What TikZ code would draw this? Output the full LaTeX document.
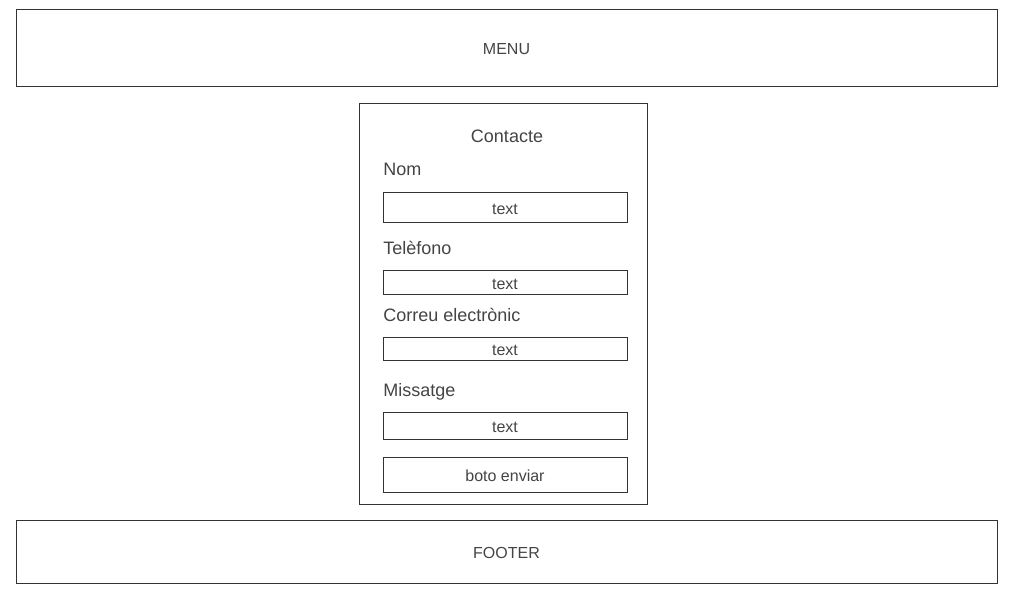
\documentclass[tikz,border=0pt]{standalone}
\usepackage{fontspec}
\setmainfont{Liberation Sans}
\usetikzlibrary{positioning}

\definecolor{linegray}{HTML}{333333}
\definecolor{textgray}{HTML}{444444}

\tikzstyle{frame}=[rectangle,draw=linegray,line width=0.75pt,inner sep=0pt,text=textgray,text height=10.6pt,text depth=0pt,font=\fontsize{12}{14}\selectfont]
\tikzstyle{field}=[frame,minimum width=183pt]
\tikzstyle{label}=[anchor=west,inner sep=0pt,text=textgray,text depth=0pt,font=\fontsize{13.5}{16}\selectfont]

\begin{document}
\begin{tikzpicture}[x=0.75pt,y=-0.75pt]
  \useasboundingbox (0,0) rectangle (1024,600);
  % page blocks
  \node (menu) [frame,minimum width=735.75pt,minimum height=57.75pt] at (506.5,47.5) {MENU};
  \node (contact) [frame,minimum width=216pt,minimum height=300.75pt] at (503,303.5) {};
  \node (footer) [frame,minimum width=735.75pt,minimum height=47.25pt] at (506.5,551.5) {FOOTER};
  % form
  \node (title) [label,anchor=center] at (507,136) {Contacte};
  \node (nom) [label] at (383,169) {Nom};
  \node (nomtext) [field,minimum height=22.5pt] at (505,207) {text};
  \node (tel) [label] at (383,248) {Telèfono};
  \node (teltext) [field,minimum height=18pt] at (505,282) {text};
  \node (mail) [label] at (383,315) {Correu electrònic};
  \node (mailtext) [field,minimum height=17.25pt] at (505,348.5) {text};
  \node (msg) [label] at (383,390) {Missatge};
  \node (msgtext) [field,minimum height=20.25pt] at (505,425.5) {text};
  \node (send) [field,minimum height=26.25pt] at (505,474.5) {boto enviar};
\end{tikzpicture}
\end{document}
